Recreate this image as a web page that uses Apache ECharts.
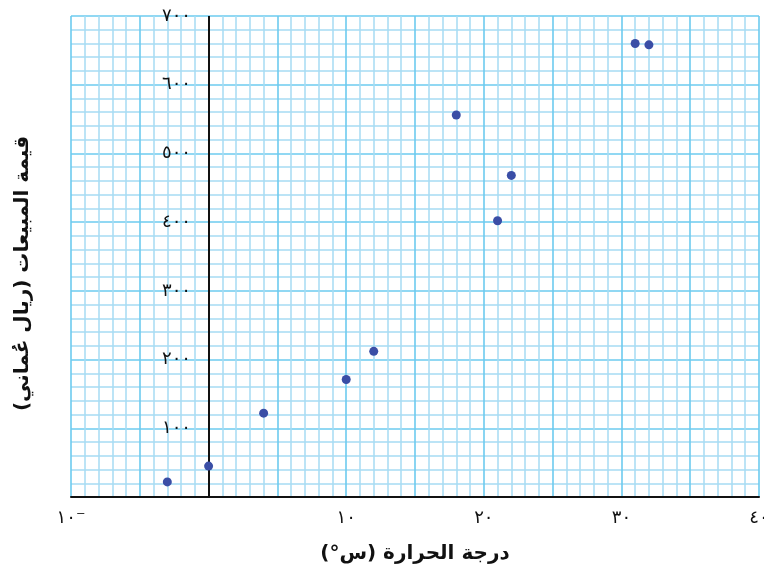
<!DOCTYPE html>
<html>
<head>
<meta charset="utf-8">
<script src="https://cdn.jsdelivr.net/npm/echarts@6/dist/echarts.min.js"></script>
<style>html,body{margin:0;padding:0;background:#fff}#c{width:764px;height:570px}</style>
</head>
<body>
<div id="c"></div>
<script>
// Data (temperature in °C, sales in Omani rial)
const temperatures = [-3, 0, 4, 10, 12, 18, 21, 22, 31, 32];
const sales = [22, 45, 122, 171, 212, 556, 402, 468, 660, 658];

// Tick labels (Arabic-Indic digits)
const xTickValues = [-10, 10, 20, 30, 40];
const xTickTexts = ['١٠⁻', '١٠', '٢٠', '٣٠', '٤٠'];
const yTickValues = [100, 200, 300, 400, 500, 600, 700];
const yTickTexts = ['١٠٠', '٢٠٠', '٣٠٠', '٤٠٠', '٥٠٠', '٦٠٠', '٧٠٠'];

const RLM = '\u200F';
const xTitle = 'درجة الحرارة (س°)';
const yTitle = 'قيمة المبيعات (ريال عُماني)';

const FONT = 'DejaVu Sans';
const majorColor = '#6ccbef';
const minorColor = '#a6dbf4';

const points = temperatures.map((t, i) => [t, sales[i]]);

function lookup(values, texts) {
  return function (v) {
    const i = values.indexOf(Math.round(v));
    return i >= 0 ? texts[i] : '';
  };
}

const chart = echarts.init(document.getElementById('c'));
chart.setOption({
  animation: false,
  backgroundColor: '#fff',
  grid: { left: 71, right: 5, top: 16, bottom: 73, containLabel: false, outerBoundsMode: 'none' },
  xAxis: {
    type: 'value',
    min: -10, max: 40, interval: 5,
    name: RLM + xTitle + RLM,
    nameLocation: 'middle',
    nameGap: 47,
    nameTextStyle: { fontFamily: FONT, fontWeight: 'bold', fontSize: 20, color: '#111' },
    axisLine: { onZero: false, lineStyle: { color: '#111', width: 2 } },
    axisTick: { show: false },
    axisLabel: {
      formatter: lookup(xTickValues, xTickTexts),
      fontFamily: FONT, fontSize: 18, color: '#111', margin: 12,
      showMinLabel: true, showMaxLabel: true, hideOverlap: false
    },
    splitLine: { show: true, lineStyle: { color: [majorColor], width: 1.6 } },
    minorTick: { show: false, splitNumber: 5 },
    minorSplitLine: { show: true, lineStyle: { color: minorColor, width: 1.5, opacity: 1 } }
  },
  yAxis: {
    type: 'value',
    min: 0, max: 700, interval: 100,
    name: RLM + yTitle + RLM,
    nameLocation: 'middle',
    nameRotate: 90,
    nameGap: 38,
    nameTextStyle: { fontFamily: FONT, fontWeight: 'bold', fontSize: 20, color: '#111', padding: [0, 34, 0, 0] },
    axisLine: { show: false },
    axisTick: { show: false },
    axisLabel: {
      formatter: lookup(yTickValues, yTickTexts),
      inside: true, align: 'right', margin: 120,
      fontFamily: FONT, fontSize: 18, color: '#111'
    },
    splitLine: { show: true, lineStyle: { color: [majorColor], width: 1.6 } },
    minorTick: { show: false, splitNumber: 5 },
    minorSplitLine: { show: true, lineStyle: { color: minorColor, width: 1.5, opacity: 1 } }
  },
  series: [{
    type: 'scatter',
    data: points,
    symbol: 'circle',
    symbolSize: 9,
    itemStyle: { color: '#3a4ea6', opacity: 1 },
    z: 10,
    markLine: {
      silent: true,
      symbol: 'none',
      label: { show: false },
      lineStyle: { color: '#111', width: 2, type: 'solid' },
      data: [{ xAxis: 0 }],
      z: 5
    }
  }]
});
</script>
</body>
</html>
